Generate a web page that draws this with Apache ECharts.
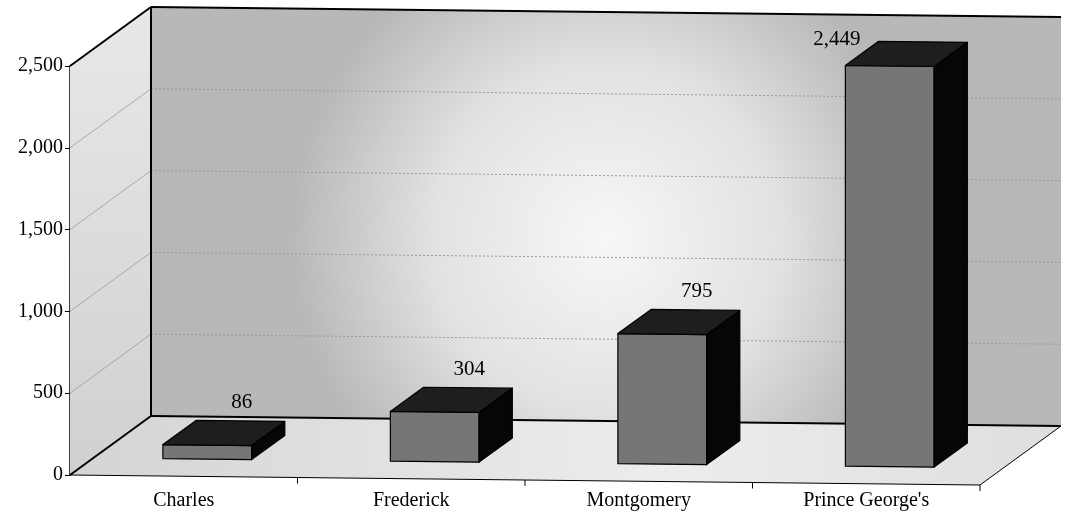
<!DOCTYPE html>
<html>
<head>
<meta charset="utf-8">
<script src="https://cdn.jsdelivr.net/npm/echarts@6/dist/echarts.min.js"></script>
<style>html,body{margin:0;padding:0;background:#fff}#chart{width:1066px;height:521px}</style>
</head>
<body>
<div id="chart"></div>
<script>
const categories = ['Charles', 'Frederick', 'Montgomery', "Prince George's"];
const values = [86, 304, 795, 2449];
const yTicks = [0, 500, 1000, 1500, 2000, 2500];

const FONT = 'Liberation Serif';
const DX = 81, DY = -59, SLOPE = 0.011;
const fmt = v => Number(v).toLocaleString('en-US');

function makeProj(x0) {
  return function (x, y, d) { return [x + DX * d, y + DY * d + SLOPE * (x - x0)]; };
}

function renderWalls(params, api) {
  const cs = params.coordSys;
  const x0 = cs.x, x1 = cs.x + cs.width, yt = cs.y, yb = cs.y + cs.height;
  const P = makeProj(x0);
  const kids = [];
  const poly = (pts, fill, z2) => ({ type: 'polygon', z2: z2 || 0, shape: { points: pts }, style: { fill: fill, stroke: null } });
  const line = (a, b, stroke, w, dash, z2) => ({ type: 'line', z2: z2 || 5, shape: { x1: a[0], y1: a[1], x2: b[0], y2: b[1] }, style: { stroke: stroke, lineWidth: w, lineDash: dash || null } });
  // walls
  kids.push(poly([P(x0, yb, 0), P(x0, yt, 0), P(x0, yt, 1), P(x0, yb, 1)],
    new echarts.graphic.LinearGradient(0, 0, 0, 1, [{ offset: 0, color: '#e8e8e8' }, { offset: 1, color: '#d0d0d0' }])));
  kids.push(poly([P(x0, yb, 1), P(x0, yt, 1), P(x1, yt, 1), P(x1, yb, 1)],
    new echarts.graphic.RadialGradient(0.5, 0.55, 0.75, [
      { offset: 0, color: '#f7f7f7' }, { offset: 0.55, color: '#e2e2e2' }, { offset: 1, color: '#b8b8b8' }])));
  kids.push(poly([P(x0, yb, 0), P(x1, yb, 0), P(x1, yb, 1), P(x0, yb, 1)],
    new echarts.graphic.LinearGradient(0, 0, 1, 0, [{ offset: 0, color: '#d4d4d4' }, { offset: 0.6, color: '#ededed' }, { offset: 1, color: '#dedede' }])));
  // gridlines
  yTicks.forEach(v => {
    if (v === 0 || v === yTicks[yTicks.length - 1]) return;
    const y = api.coord([0, v])[1];
    kids.push(line(P(x0, y, 0), P(x0, y, 1), '#9a9a9a', 0.8, null, 3));
    kids.push(line(P(x0, y, 1), P(x1, y, 1), '#9a9a9a', 1, [2, 2], 3));
  });
  // edges
  kids.push(line(P(x0, yt, 0), P(x0, yt, 1), '#000', 2));
  kids.push(line(P(x0, yt, 1), P(x1, yt, 1), '#000', 2));
  kids.push(line(P(x0, yt, 1), P(x0, yb, 1), '#000', 2));
  kids.push(line(P(x0, yb, 0), P(x0, yb, 1), '#000', 2));
  kids.push(line(P(x0, yb, 1), P(x1, yb, 1), '#000', 2));
  kids.push(line(P(x0, yb, 0), P(x1, yb, 0), '#000', 1));
  kids.push(line(P(x1, yb, 0), P(x1, yb, 1), '#000', 1));
  // category ticks
  const band = cs.width / categories.length;
  for (let k = 1; k <= categories.length; k++) {
    const a = P(x0 + k * band, yb, 0);
    kids.push(line(a, [a[0], a[1] + 6], '#000', 1));
  }
  return { type: 'group', children: kids };
}

function renderBars(params, api) {
  const cs = params.coordSys;
  const x0 = cs.x, ytop = cs.y;
  const P = makeProj(x0);
  const idx = api.value(0), val = api.value(1);
  const base = api.coord([idx, 0]);
  const top = api.coord([idx, val]);
  const band = api.size([1, 0])[0];
  const w = band * 0.39, d0 = 0.29, d1 = 0.70;
  const xl = base[0] - w / 2, xr = base[0] + w / 2, yb = base[1], yt = top[1];
  const st = fill => ({ fill: fill, stroke: '#000', lineWidth: 1.2, lineJoin: 'round' });
  const kids = [
    { type: 'polygon', shape: { points: [P(xl, yb, d0), P(xr, yb, d0), P(xr, yt, d0), P(xl, yt, d0)] }, style: st('#767676') },
    { type: 'polygon', shape: { points: [P(xr, yb, d0), P(xr, yb, d1), P(xr, yt, d1), P(xr, yt, d0)] }, style: st('#060606') },
    { type: 'polygon', shape: { points: [P(xl, yt, d0), P(xr, yt, d0), P(xr, yt, d1), P(xl, yt, d1)] }, style: st('#1e1e1e') }
  ];
  const backL = P(xl, yt, d1), frontL = P(xl, yt, d0), backR = P(xr, yt, d1);
  let lx = (frontL[0] + backR[0]) / 2 + 18, ly = backL[1] - 18, align = 'center';
  if (ly - 10 < ytop + DY + 26) { lx = backL[0] - 18; ly = backL[1] - 2; align = 'right'; }
  kids.push({ type: 'text', z2: 20, style: { text: fmt(val), x: lx, y: ly, align: align, verticalAlign: 'middle', font: '21px "' + FONT + '"', fill: '#000' } });
  return { type: 'group', children: kids };
}

const chart = echarts.init(document.getElementById('chart'), null, { renderer: 'canvas' });
chart.setOption({
  backgroundColor: '#ffffff',
  animation: false,
  grid: { left: 70, right: 86, top: 66, bottom: 46, containLabel: false },
  xAxis: {
    type: 'category', data: categories,
    axisLine: { show: false }, axisTick: { show: false },
    axisLabel: { margin: 16, fontFamily: FONT, fontSize: 20, color: '#000' }
  },
  yAxis: {
    type: 'value', min: 0, max: 2500, interval: 500,
    splitLine: { show: false },
    axisLine: { show: true, lineStyle: { color: '#000', width: 1.5 } },
    axisTick: { show: true, length: 5, lineStyle: { color: '#000' } },
    axisLabel: { margin: 7, fontFamily: FONT, fontSize: 20, color: '#000', formatter: v => fmt(v) }
  },
  series: [
    { type: 'custom', z: 1, clip: false, silent: true, renderItem: renderWalls, data: [[0, 0]] },
    { type: 'custom', z: 2, clip: false, renderItem: renderBars, data: values.map((v, i) => [i, v]) }
  ]
});
</script>
</body>
</html>
